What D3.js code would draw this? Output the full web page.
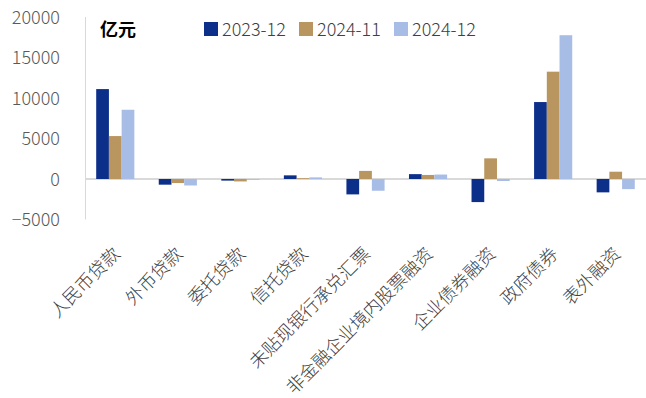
<!DOCTYPE html>
<html>
<head>
<meta charset="utf-8">
<script src="https://cdn.jsdelivr.net/npm/d3@7"></script>
<style>
  body { margin: 0; background: #fff; }
  text { font-family: "Noto Sans CJK SC", "Noto Sans", sans-serif; }
</style>
</head>
<body>
<script>
var categories = ['人民币贷款', '外币贷款', '委托贷款', '信托贷款', '未贴现银行承兑汇票',
  '非金融企业境内股票融资', '企业债券融资', '政府债券', '表外融资'];
var seriesNames = ['2023-12', '2024-11', '2024-12'];
var values2312 = [11100, -700, -200, 450, -1900, 600, -2850, 9500, -1650];
var values2411 = [5300, -500, -300, 100, 1000, 500, 2550, 13250, 900];
var values2412 = [8550, -800, -100, 200, -1450, 550, -250, 17750, -1250];
var yTicks = [-5000, 0, 5000, 10000, 15000, 20000];
var unitLabel = '亿元';

var colors = ['#0c2f8a', '#b9955f', '#a8bde6'];
var seriesValues = [values2312, values2411, values2412];

var width = 646, height = 398;

var svg = d3.select('body').append('svg')
  .attr('width', width)
  .attr('height', height);

var x = d3.scaleBand()
  .domain(categories)
  .range([84, 647])
  .paddingInner(0.39)
  .paddingOuter(0.195);

var xSub = d3.scaleBand()
  .domain(seriesNames)
  .range([0, x.bandwidth()]);

var y = d3.scaleLinear()
  .domain([-5000, 20000])
  .range([219.5, 17]);

// y axis: labels only, plus a thin vertical line
var yAxis = svg.append('g')
  .attr('transform', 'translate(60,0)')
  .call(d3.axisLeft(y).tickValues(yTicks).tickSize(0).tickPadding(0).tickFormat(d3.format('d')));
yAxis.select('.domain').remove();
yAxis.selectAll('text')
  .attr('font-size', 18)
  .attr('font-weight', 300)
  .attr('fill', '#595959')
  .attr('dy', '0.35em');

svg.append('line')
  .attr('x1', 85.5).attr('x2', 85.5)
  .attr('y1', y(20000)).attr('y2', y(-5000))
  .attr('stroke', '#d9d9d9')
  .attr('stroke-width', 1);

// zero line
svg.append('line')
  .attr('x1', 85).attr('x2', width)
  .attr('y1', y(0)).attr('y2', y(0))
  .attr('stroke', '#d9d9d9')
  .attr('stroke-width', 2);

// bars
seriesNames.forEach(function(name, i) {
  svg.append('g')
    .selectAll('rect')
    .data(categories)
    .enter()
    .append('rect')
    .attr('x', function(d) { return x(d) + xSub(name); })
    .attr('width', xSub.bandwidth())
    .attr('y', function(d, j) { return Math.min(y(seriesValues[i][j]), y(0)); })
    .attr('height', function(d, j) { return Math.abs(y(seriesValues[i][j]) - y(0)); })
    .attr('fill', colors[i]);
});

// x labels, rotated
svg.append('g')
  .selectAll('text')
  .data(categories)
  .enter()
  .append('text')
  .attr('transform', function(d) {
    return 'translate(' + (x(d) + x.bandwidth() / 2 + 6) + ',255) rotate(-45)';
  })
  .attr('text-anchor', 'end')
  .attr('font-size', 18)
  .attr('font-weight', 300)
  .attr('fill', '#404040')
  .text(function(d) { return d; });

// unit label
svg.append('text')
  .attr('x', 100)
  .attr('y', 36)
  .attr('font-size', 18)
  .attr('font-weight', 'bold')
  .attr('fill', '#000')
  .text(unitLabel);

// legend
var legendX = [204, 299, 394];
var legend = svg.append('g');
seriesNames.forEach(function(name, i) {
  legend.append('rect')
    .attr('x', legendX[i])
    .attr('y', 22)
    .attr('width', 14)
    .attr('height', 14)
    .attr('fill', colors[i]);
  legend.append('text')
    .attr('x', legendX[i] + 18)
    .attr('y', 36)
    .attr('font-size', 18)
    .attr('font-weight', 300)
    .attr('fill', '#404040')
    .text(name);
});
</script>
</body>
</html>
